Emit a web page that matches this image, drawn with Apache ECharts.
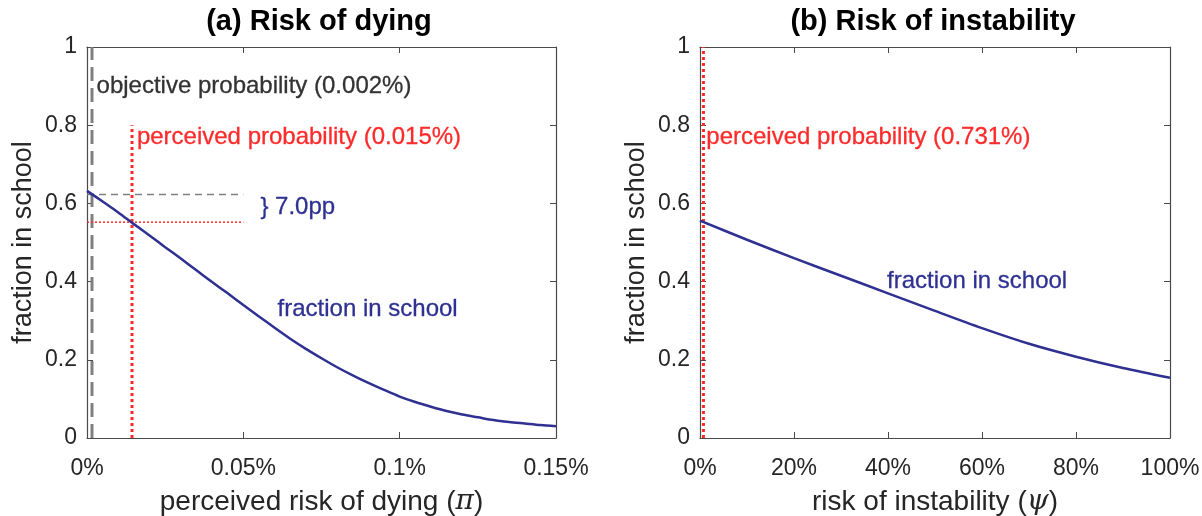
<!DOCTYPE html>
<html><head><meta charset="utf-8">
<script src="https://cdn.jsdelivr.net/npm/echarts@6/dist/echarts.min.js"></script>
<style>html,body{margin:0;padding:0;background:#fff}#c{width:1202px;height:516px}</style>
</head><body><div id="c"></div>
<script>
// ---- data (x in percent) ----
const riskDying = [0,0.005,0.01,0.015,0.02,0.025,0.03,0.035,0.04,0.045,0.05,0.055,0.06,0.065,0.07,0.075,0.08,0.085,0.09,0.095,0.1,0.105,0.11,0.115,0.12,0.125,0.13,0.135,0.14,0.145,0.15];
const schoolDying = [0.632,0.605,0.577,0.547,0.518,0.488,0.459,0.429,0.399,0.370,0.340,0.311,0.282,0.254,0.228,0.204,0.181,0.160,0.141,0.123,0.106,0.092,0.080,0.069,0.060,0.053,0.046,0.041,0.037,0.033,0.030];
const riskInstability = [0,10,20,30,40,50,60,70,80,90,100];
const schoolInstability = [0.556,0.507,0.460,0.415,0.370,0.325,0.281,0.241,0.208,0.179,0.154];
const objectiveRisk = 0.0016;
const perceivedRiskDying = 0.0144;
const perceivedRiskInst = 0.731;
const fracAtObjective = 0.623;
const fracAtPerceived = 0.552;
const gapLineEnd = 0.05;
const redLineTop = 0.8;
const titles = ['(a) Risk of dying', '(b) Risk of instability'];
const yTickLabels = ['0','0.2','0.4','0.6','0.8','1'];
const annotationsDying = [
  {text:'objective probability (0.002%)', x:0.0029, y:0.900, color:'#333333'},
  {text:'perceived probability (0.015%)', x:0.0158, y:0.770, color:'#ff2a2a'},
  {text:'} 7.0pp', x:0.0553, y:0.590, color:'#2e3192'},
  {text:'fraction in school', x:0.0608, y:0.328, color:'#2e3192'}
];
const annotationsInst = [
  {text:'perceived probability (0.731%)', x:1.23, y:0.770, color:'#ff2a2a'},
  {text:'fraction in school', x:39.7, y:0.400, color:'#2e3192'}
];

const FONT = 'Liberation Sans, Arial, Helvetica, sans-serif';
const AX = '#4a4a4a';
const NAVY = '#2e3192';
const RED = '#ff2a2a';

function xAxes(grid, min, max, interval, fmt, name) {
  const base = {type:'value', gridIndex:grid, min, max, interval,
    axisLine:{show:true, onZero:false, lineStyle:{color:AX, width:1.2}},
    axisTick:{show:true, inside:true, length:6, lineStyle:{color:AX}},
    splitLine:{show:false}};
  return [
    Object.assign({}, base, {position:'bottom',
      axisLabel:{formatter:fmt, color:'#262626', fontSize:23, margin:19, fontFamily:FONT},
      name, nameLocation:'middle', nameGap:50,
      nameTextStyle:{color:'#262626', fontSize:28, fontFamily:FONT,
        rich:{g:{fontSize:28, fontStyle:'italic', fontFamily:'DejaVu Serif, serif', color:'#262626'}}}}),
    Object.assign({}, base, {position:'top', axisLabel:{show:false}})
  ];
}
function yAxes(grid) {
  const base = {type:'value', gridIndex:grid, min:0, max:1, interval:0.2,
    axisLine:{show:true, onZero:false, lineStyle:{color:AX, width:1.2}},
    axisTick:{show:true, inside:true, length:6, lineStyle:{color:AX}},
    splitLine:{show:false}};
  return [
    Object.assign({}, base, {position:'left',
      axisLabel:{formatter:(v)=>yTickLabels[Math.round(v/0.2)], color:'#262626', fontSize:23, margin:10, fontFamily:FONT},
      name:'fraction in school', nameLocation:'middle', nameGap:50,
      nameTextStyle:{color:'#262626', fontSize:27, fontFamily:FONT}}),
    Object.assign({}, base, {position:'right', axisLabel:{show:false}})
  ];
}
function pairs(xs, ys){ return xs.map((x,i)=>[x, ys[i]]); }
function refLine(xi, yi, data, color, width, type){
  return {type:'line', xAxisIndex:xi, yAxisIndex:yi, data, symbol:'none', silent:true,
    lineStyle:{color, width, type}, z:2};
}
function notes(xi, yi, list){
  return list.map(a=>({type:'scatter', xAxisIndex:xi, yAxisIndex:yi, symbolSize:1,
    itemStyle:{color:'rgba(0,0,0,0)'}, silent:true, z:5, data:[[a.x, a.y]],
    label:{show:true, position:'right', distance:0, formatter:a.text, color:a.color,
      fontSize:24, fontFamily:FONT, opacity:1, textBorderColor:a.color, textBorderWidth:0.3}}));
}

const chart = echarts.init(document.getElementById('c'), null, {renderer:'canvas'});
chart.setOption({
  animation:false,
  backgroundColor:'#ffffff',
  graphic:[
    {type:'text', x:319, y:22, style:{text:titles[0], fontSize:29, fontWeight:'bold', fontFamily:FONT, fill:'#000', align:'center', verticalAlign:'middle'}},
    {type:'text', x:933, y:22, style:{text:titles[1], fontSize:29, fontWeight:'bold', fontFamily:FONT, fill:'#000', align:'center', verticalAlign:'middle'}}
  ],
  grid:[
    {left:87, right:646, top:47, bottom:78, outerBoundsMode:'none', containLabel:false},
    {left:700, right:32, top:47, bottom:78, outerBoundsMode:'none', containLabel:false}
  ],
  xAxis:[].concat(
    xAxes(0, 0, 0.15, 0.05, (v)=> (+v.toFixed(3)) + '%', 'perceived risk of dying ({g|π})'),
    xAxes(1, 0, 100, 20, (v)=> Math.round(v) + '%', 'risk of instability ({g|ψ})')
  ),
  yAxis:[].concat(yAxes(0), yAxes(1)),
  series:[
    refLine(0,0,[[objectiveRisk,0],[objectiveRisk,1]], '#808080', 3, [14,7]),
    refLine(0,0,[[perceivedRiskDying,0],[perceivedRiskDying,redLineTop]], RED, 3, [3,3]),
    refLine(0,0,[[0,fracAtObjective],[gapLineEnd,fracAtObjective]], '#808080', 1.5, [7,5]),
    refLine(0,0,[[0,fracAtPerceived],[gapLineEnd,fracAtPerceived]], RED, 1.5, [2,2]),
    {type:'line', xAxisIndex:0, yAxisIndex:0, data:pairs(riskDying, schoolDying), symbol:'none', smooth:0.3,
      lineStyle:{color:NAVY, width:2.5}, z:3, silent:true},
    refLine(2,2,[[perceivedRiskInst,0],[perceivedRiskInst,1]], RED, 3, [3,3]),
    {type:'line', xAxisIndex:2, yAxisIndex:2, data:pairs(riskInstability, schoolInstability), symbol:'none', smooth:0.3,
      lineStyle:{color:NAVY, width:2.5}, z:3, silent:true}
  ].concat(notes(0,0,annotationsDying), notes(2,2,annotationsInst))
});
</script></body></html>
